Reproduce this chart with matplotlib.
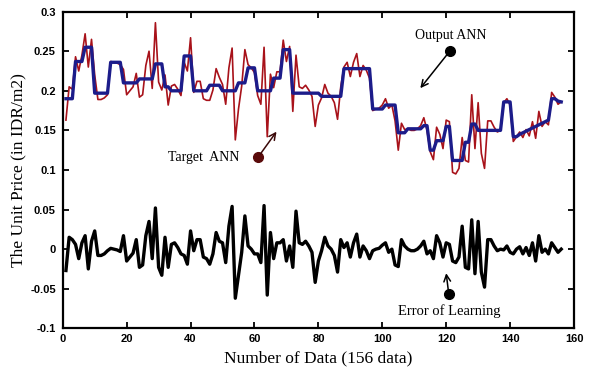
import matplotlib.pyplot as plt
import numpy as np

# data (156 samples)
output_ann = [
    0.190, 0.190, 0.190, 0.237, 0.237, 0.237, 0.255, 0.255, 0.255, 0.197,
    0.197, 0.197, 0.197, 0.197, 0.236, 0.236, 0.236, 0.236, 0.210, 0.210,
    0.210, 0.210, 0.210, 0.215, 0.215, 0.215, 0.215, 0.215, 0.234, 0.234,
    0.234, 0.205, 0.205, 0.200, 0.200, 0.200, 0.200, 0.244, 0.244, 0.244,
    0.200, 0.200, 0.200, 0.200, 0.200, 0.207, 0.207, 0.207, 0.207, 0.200,
    0.200, 0.200, 0.200, 0.200, 0.210, 0.210, 0.210, 0.229, 0.229, 0.229,
    0.200, 0.200, 0.200, 0.200, 0.200, 0.216, 0.216, 0.216, 0.252, 0.252,
    0.252, 0.197, 0.197, 0.197, 0.197, 0.197, 0.197, 0.197, 0.197, 0.197,
    0.193, 0.193, 0.193, 0.193, 0.193, 0.193, 0.193, 0.228, 0.228, 0.228,
    0.228, 0.228, 0.228, 0.228, 0.228, 0.228, 0.177, 0.177, 0.177, 0.177,
    0.182, 0.182, 0.182, 0.182, 0.147, 0.147, 0.147, 0.152, 0.152, 0.152,
    0.152, 0.152, 0.156, 0.156, 0.125, 0.125, 0.137, 0.137, 0.137, 0.155,
    0.155, 0.112, 0.112, 0.112, 0.112, 0.135, 0.135, 0.158, 0.158, 0.150,
    0.150, 0.150, 0.150, 0.150, 0.150, 0.150, 0.150, 0.186, 0.186, 0.186,
    0.142, 0.142, 0.145, 0.147, 0.149, 0.151, 0.153, 0.155, 0.157, 0.159,
    0.161, 0.163, 0.190, 0.190, 0.187, 0.186,
]

target_ann = [
    0.163, 0.205, 0.202, 0.243, 0.225, 0.245, 0.272, 0.230, 0.265, 0.220,
    0.189, 0.189, 0.191, 0.195, 0.237, 0.236, 0.235, 0.233, 0.227, 0.195,
    0.200, 0.205, 0.222, 0.192, 0.195, 0.232, 0.250, 0.203, 0.286, 0.211,
    0.201, 0.220, 0.182, 0.206, 0.208, 0.202, 0.194, 0.236, 0.225, 0.267,
    0.198, 0.212, 0.212, 0.190, 0.188, 0.188, 0.201, 0.228, 0.217, 0.208,
    0.183, 0.229, 0.254, 0.138, 0.177, 0.206, 0.252, 0.233, 0.229, 0.223,
    0.194, 0.183, 0.255, 0.142, 0.221, 0.204, 0.224, 0.224, 0.264, 0.237,
    0.256, 0.174, 0.245, 0.205, 0.203, 0.207, 0.201, 0.193, 0.155, 0.182,
    0.191, 0.208, 0.197, 0.193, 0.185, 0.164, 0.205, 0.230, 0.236, 0.218,
    0.236, 0.247, 0.218, 0.232, 0.226, 0.216, 0.175, 0.177, 0.178, 0.182,
    0.190, 0.178, 0.182, 0.162, 0.125, 0.159, 0.151, 0.152, 0.150, 0.150,
    0.152, 0.156, 0.166, 0.150, 0.123, 0.113, 0.154, 0.145, 0.127, 0.163,
    0.161, 0.097, 0.095, 0.102, 0.141, 0.112, 0.110, 0.195, 0.127, 0.185,
    0.121, 0.102, 0.162, 0.162, 0.154, 0.148, 0.150, 0.185, 0.190, 0.182,
    0.136, 0.142, 0.148, 0.141, 0.151, 0.143, 0.161, 0.140, 0.174, 0.155,
    0.161, 0.157, 0.198, 0.192, 0.183, 0.186,
]

error_learning = [
    -0.027, 0.015, 0.012, 0.006, -0.012, 0.008, 0.017, -0.025, 0.010, 0.023,
    -0.008, -0.008, -0.006, -0.002, 0.001, 0.000, -0.001, -0.003, 0.017, -0.015,
    -0.010, -0.005, 0.012, -0.023, -0.020, 0.017, 0.035, -0.012, 0.052, -0.023,
    -0.033, 0.015, -0.023, 0.006, 0.008, 0.002, -0.006, -0.008, -0.019, 0.023,
    -0.002, 0.012, 0.012, -0.010, -0.012, -0.019, -0.006, 0.021, 0.010, 0.008,
    -0.017, 0.029, 0.054, -0.062, -0.033, -0.004, 0.042, 0.004, 0.000, -0.006,
    -0.006, -0.017, 0.055, -0.058, 0.021, -0.012, 0.008, 0.008, 0.012, -0.015,
    0.004, -0.023, 0.048, 0.008, 0.006, 0.010, 0.004, -0.004, -0.042, -0.015,
    -0.002, 0.015, 0.004, 0.000, -0.008, -0.029, 0.012, 0.002, 0.008, -0.010,
    0.008, 0.019, -0.010, 0.004, -0.002, -0.012, -0.002, 0.000, 0.001, 0.005,
    0.008, -0.004, 0.000, -0.020, -0.022, 0.012, 0.004, 0.000, -0.002, -0.002,
    0.000, 0.004, 0.010, -0.006, -0.002, -0.012, 0.017, 0.008, -0.010, 0.008,
    0.006, -0.015, -0.017, -0.010, 0.029, -0.023, -0.025, 0.037, -0.031, 0.035,
    -0.029, -0.048, 0.012, 0.012, 0.004, -0.002, 0.000, -0.001, 0.004, -0.004,
    -0.006, 0.000, 0.003, -0.006, 0.002, -0.008, 0.008, -0.015, 0.017, -0.004,
    0.000, -0.006, 0.008, 0.002, -0.004, 0.000,
]

x = np.arange(1, len(output_ann) + 1)

fig = plt.figure(figsize=(5.92, 3.75), dpi=100)
ax = fig.add_axes([0.106, 0.1245, 0.8636, 0.8445])

ax.plot(x, target_ann, color='#a8121a', linewidth=1.2)
ax.plot(x, output_ann, color='#1c1c8a', linewidth=2.4)
ax.plot(x, error_learning, color='black', linewidth=2.4)

ax.set_xlim(0, 160)
ax.set_ylim(-0.1, 0.3)
ax.set_xticks(range(0, 161, 20))
ax.set_yticks([-0.1, -0.05, 0, 0.05, 0.1, 0.15, 0.2, 0.25, 0.3])
ax.set_yticklabels(['-0.1', '-0.05', '0', '0.05', '0.1', '0.15', '0.2', '0.25', '0.3'])

for s in ax.spines.values():
    s.set_linewidth(1.6)
ax.tick_params(direction='in', top=True, right=True, length=4, width=1.3,
               labelsize=8)
ax.tick_params(axis='y', pad=5)
ax.tick_params(axis='x', pad=4)
for lab in ax.get_xticklabels() + ax.get_yticklabels():
    lab.set_fontfamily('Liberation Sans')
    lab.set_fontweight('bold')

serif = 'Liberation Serif'
ax.set_xlabel('Number of Data (156 data)', fontfamily=serif, fontsize=12.5, labelpad=5)
ax.set_ylabel('The Unit Price (in IDR/m2)', fontfamily=serif, fontsize=12.5, labelpad=3)

# annotations: dot + arrow + text
arrow = dict(arrowstyle='->', color='black', lw=1.1, shrinkA=3, shrinkB=0,
             mutation_scale=12)
ax.annotate('', xy=(111.9, 0.2033), xytext=(121.25, 0.2507), arrowprops=arrow)
ax.plot(121.25, 0.2507, 'o', color='black', markersize=7)
ax.text(121.5, 0.27, 'Output ANN', fontfamily=serif, fontsize=10, ha='center', va='center')

arrow_r = dict(arrowstyle='->', color='#3a0808', lw=1.1, shrinkA=3, shrinkB=0,
               mutation_scale=12)
ax.annotate('', xy=(66.9, 0.1484), xytext=(61.1, 0.116), arrowprops=arrow_r)
ax.plot(61.1, 0.116, 'o', color='#5a0a0a', markersize=7)
ax.text(44, 0.116, 'Target  ANN', fontfamily=serif, fontsize=10, ha='center', va='center')

ax.annotate('', xy=(120.0, -0.0304), xytext=(120.8, -0.0566), arrowprops=arrow)
ax.plot(120.8, -0.0566, 'o', color='black', markersize=7)
ax.text(121, -0.0786, 'Error of Learning', fontfamily=serif, fontsize=10.5, ha='center', va='center')

fig.savefig('out.png', dpi=100)
